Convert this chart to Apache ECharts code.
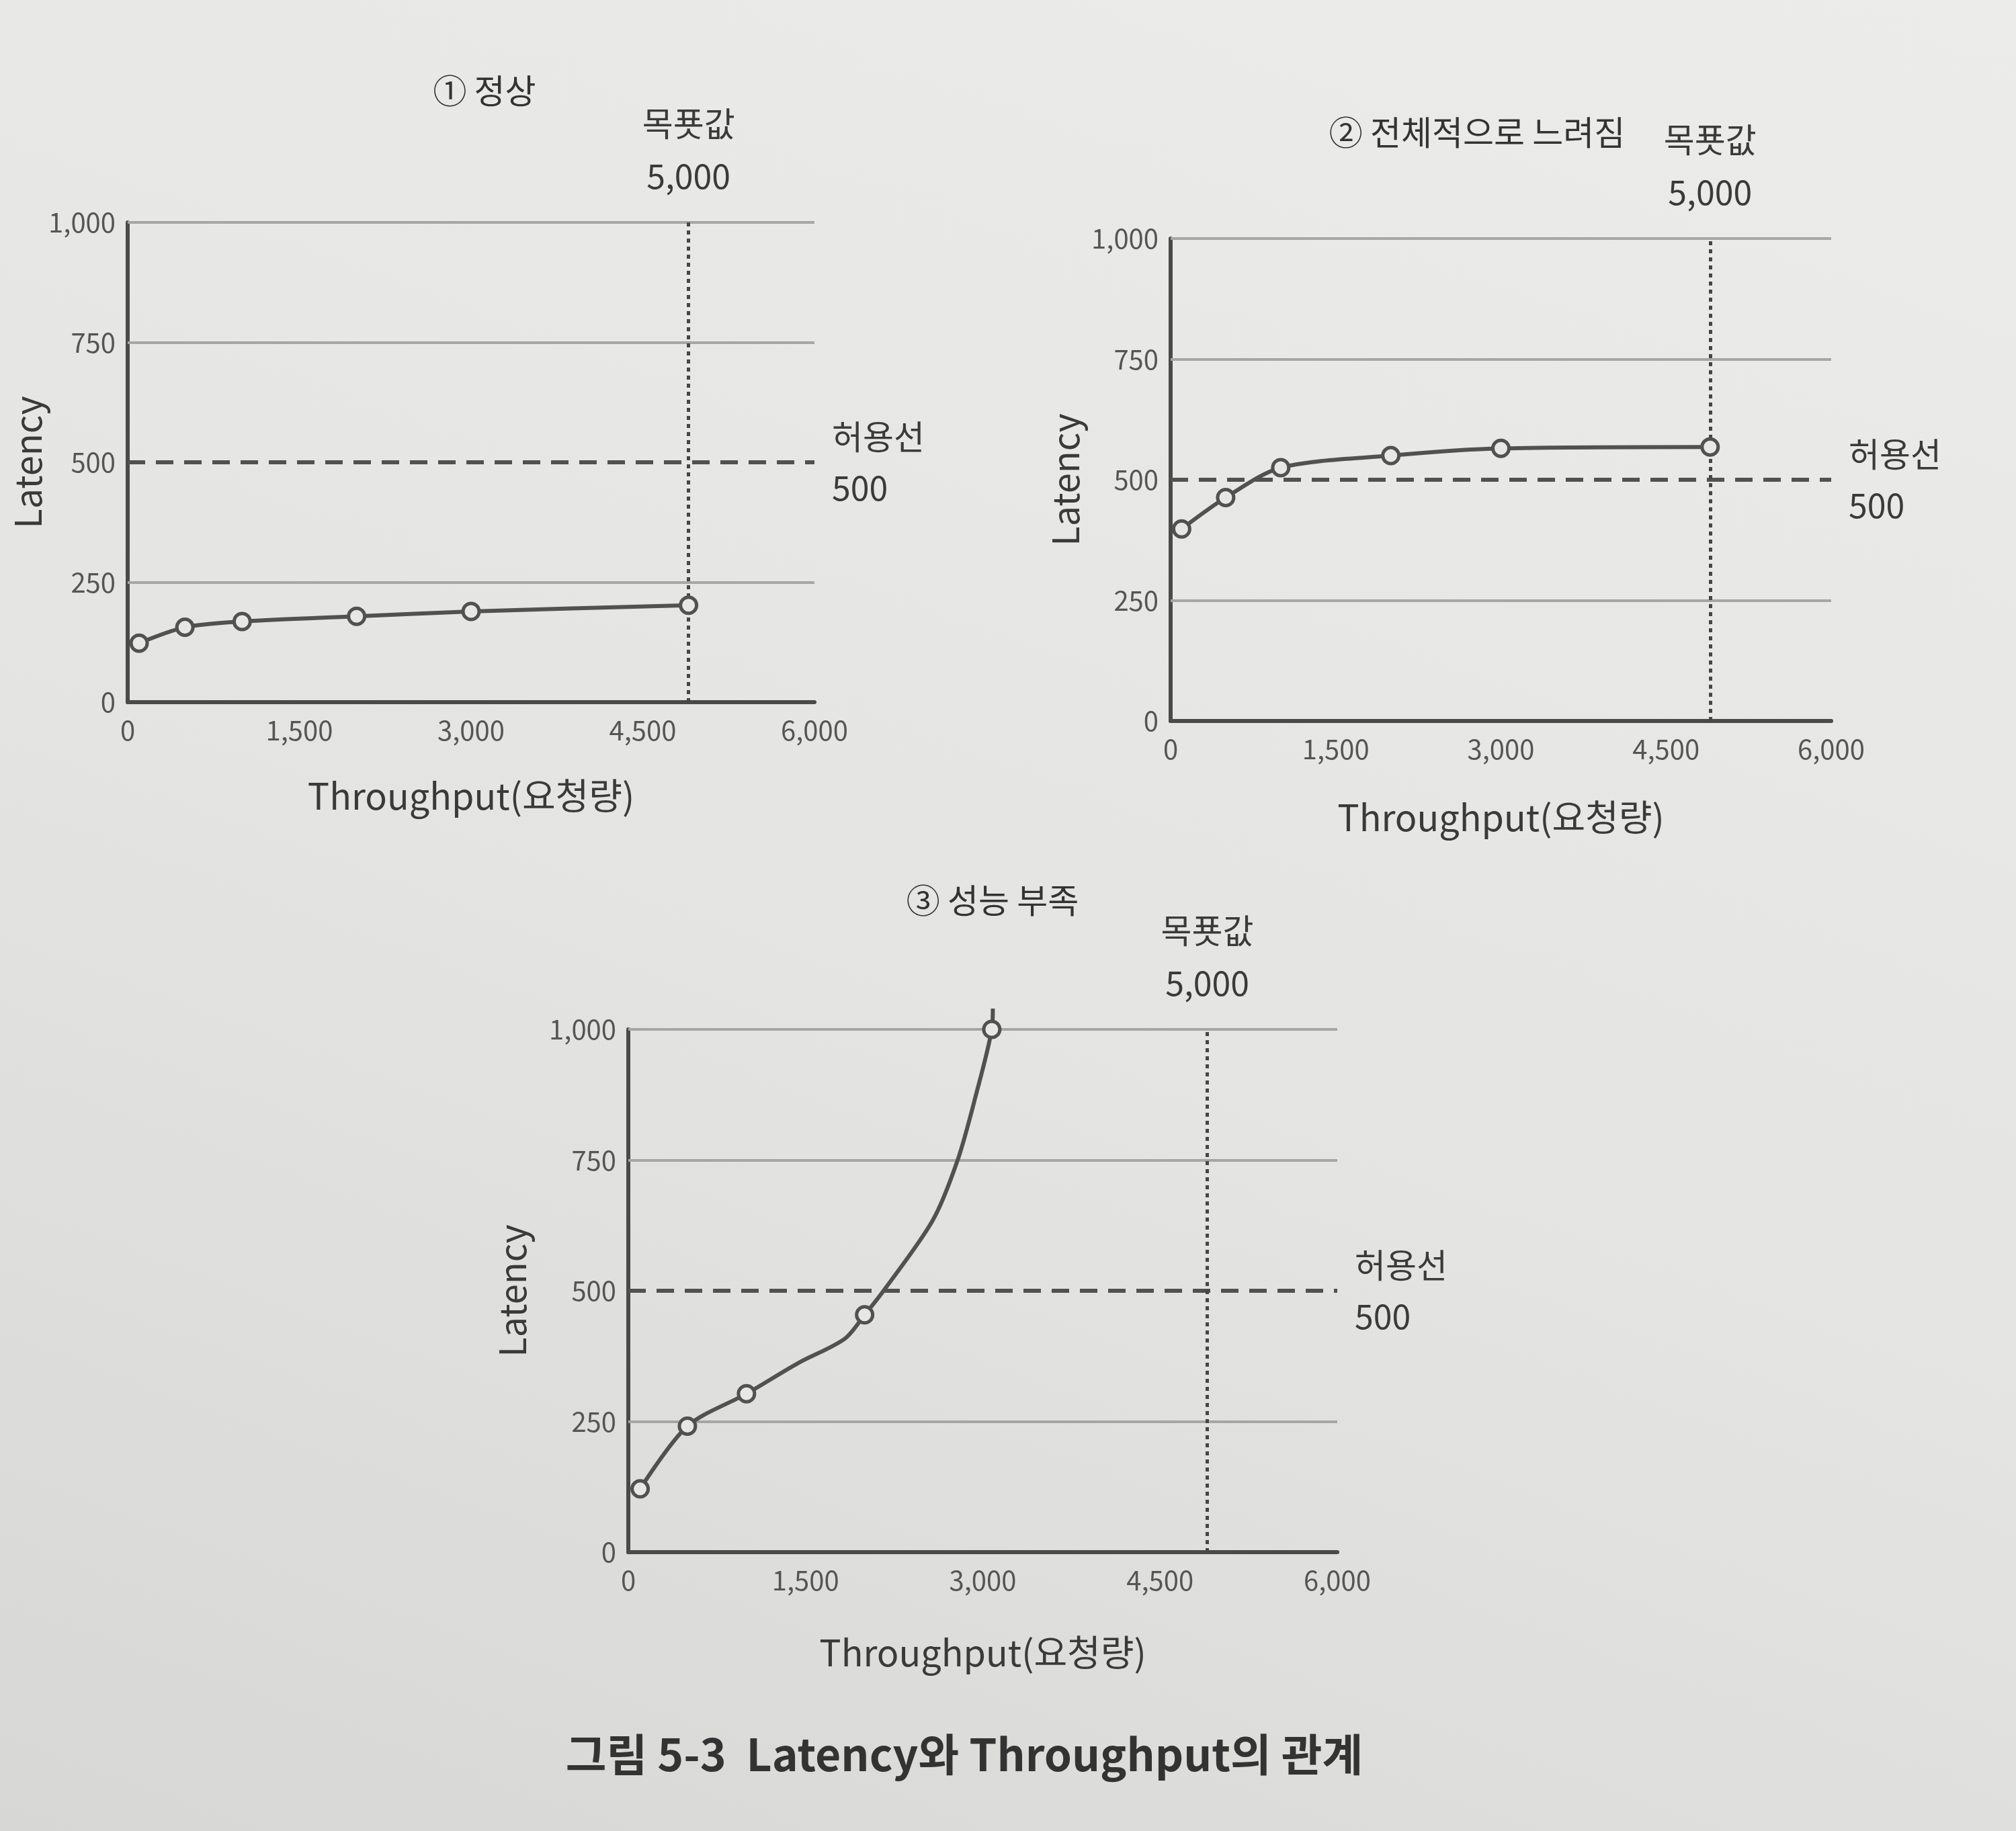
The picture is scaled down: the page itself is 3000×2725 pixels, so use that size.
<!DOCTYPE html>
<html>
<head>
<meta charset="utf-8">
<script src="https://cdn.jsdelivr.net/npm/echarts@6/dist/echarts.min.js"></script>
<style>
  html, body { margin: 0; padding: 0; }
  body {
    width: 3000px; height: 2725px;
    background: linear-gradient(200deg, #ececea 0%, #e4e4e2 55%, #d7d7d5 100%);
  }
  #chart { width: 3000px; height: 2725px; }
</style>
</head>
<body>
<div id="chart"></div>
<script>
// axis ticks
const latencyTicks = [0, 250, 500, 750, 1000]
const throughputTicks = [0, 1500, 3000, 4500, 6000]
const latencyGrid = [250, 750, 1000]

// reference lines
const limitLatency = 500
const limitLabel = '500'
const targetThroughput = 4900   // where the "5,000" line is drawn in the figure
const targetLabel = '5,000'

// [throughput, latency]
const normalPoints = [[100, 123], [500, 156], [1000, 168], [2000, 179], [3000, 189], [4900, 202]]
const slowPoints = [[100, 398], [500, 463], [1000, 525], [2000, 550], [3000, 565], [4900, 568]]
const weakPoints = [[100, 121], [500, 241], [1000, 303], [2000, 454], [3076, 1000]]
// extra points (no marker)
const weakCurve = [[1440, 362], [1830, 408], [2160, 500], [2577, 635], [2787, 750], [2939, 872], [3085, 1040]]

const titles = ['① 정상', '② 전체적으로 느려짐', '③ 성능 부족']
const caption = '그림 5-3  Latency와 Throughput의 관계'

const FONT = '"Noto Sans CJK KR", "Noto Sans", sans-serif'
const INK = '#3a3a3a'
const LINE = '#515151'
const PAPER = '#e7e7e5'

const panels = [
  { left: 190, top: 331, width: 1022, height: 714, xGap: 112, yGap: 112, tx: 721, ty: 135 },
  { left: 1742, top: 355, width: 983, height: 718, xGap: 116, yGap: 130, tx: 2198, ty: 197 },
  { left: 935, top: 1532, width: 1055, height: 778, xGap: 122, yGap: 146, tx: 1477, ty: 1340 },
]

const fmt = (v) => Number(v).toLocaleString('en-US')

const guideLines = () => ({
  silent: true,
  symbol: 'none',
  z: 1,
  animation: false,
  data: [
    ...latencyGrid.map(v => ({
      yAxis: v,
      lineStyle: { color: '#a6a6a6', width: 4, type: 'solid' },
      label: { show: false },
    })),
    {
      yAxis: limitLatency,
      lineStyle: { color: LINE, width: 6, type: [26, 16] },
      label: {
        show: true, position: 'end', distance: 26,
        formatter: '허용선\n' + limitLabel,
        fontSize: 50, lineHeight: 76, color: INK, fontFamily: FONT, align: 'left',
      },
    },
    {
      xAxis: targetThroughput,
      lineStyle: { color: '#464646', width: 5, type: [6, 6] },
      label: {
        show: true, position: 'end', distance: 30,
        formatter: '목푯값\n' + targetLabel,
        fontSize: 50, lineHeight: 78, color: INK, fontFamily: FONT,
      },
    },
  ],
})

const lineSeries = (i, data, smooth) => ({
  type: 'line',
  xAxisIndex: i,
  yAxisIndex: i,
  data,
  smooth,
  clip: false,
  z: 3,
  showAllSymbol: true,
  symbol: 'circle',
  symbolSize: 24,
  itemStyle: { color: PAPER, borderColor: LINE, borderWidth: 5 },
  lineStyle: { color: LINE, width: 6 },
  markLine: guideLines(),
  animation: false,
})

const weakData = [
  ...weakPoints.map(p => ({ value: p })),
  ...weakCurve.map(p => ({ value: p, symbol: 'none' })),
].sort((a, b) => a.value[0] - b.value[0])

const chart = echarts.init(document.getElementById('chart'))

chart.setOption({
  backgroundColor: 'transparent',
  grid: panels.map(p => ({ left: p.left, top: p.top, width: p.width, height: p.height })),
  xAxis: panels.map((p, i) => ({
    gridIndex: i,
    type: 'value',
    min: throughputTicks[0],
    max: throughputTicks[throughputTicks.length - 1],
    interval: throughputTicks[1] - throughputTicks[0],
    name: 'Throughput(요청량)',
    nameLocation: 'middle',
    nameGap: p.xGap,
    nameTextStyle: { fontSize: 54, color: INK, fontFamily: FONT },
    axisLine: { show: true, lineStyle: { color: '#4a4a4a', width: 6 } },
    axisTick: { show: false },
    splitLine: { show: false },
    axisLabel: { fontSize: 40, color: '#555', margin: 22, fontFamily: FONT, formatter: fmt },
  })),
  yAxis: panels.map((p, i) => ({
    gridIndex: i,
    type: 'value',
    min: latencyTicks[0],
    max: latencyTicks[latencyTicks.length - 1],
    interval: latencyTicks[1] - latencyTicks[0],
    name: 'Latency',
    nameLocation: 'middle',
    nameGap: p.yGap,
    nameTextStyle: { fontSize: 54, color: INK, fontFamily: FONT },
    axisLine: { show: true, lineStyle: { color: '#4a4a4a', width: 6 } },
    axisTick: { show: false },
    splitLine: { show: false },
    axisLabel: { fontSize: 40, color: '#555', margin: 18, fontFamily: FONT, formatter: fmt },
  })),
  series: [
    lineSeries(0, normalPoints, 0.3),
    lineSeries(1, slowPoints, 0.3),
    lineSeries(2, weakData, 0.3),
  ],
  graphic: [
    ...panels.map((p, i) => ({
      type: 'text',
      x: p.tx,
      y: p.ty,
      style: {
        text: titles[i], fill: '#333', fontSize: 50, fontFamily: FONT,
        textAlign: 'center', textVerticalAlign: 'middle',
      },
    })),
    {
      type: 'text',
      x: 1435,
      y: 2611,
      style: {
        text: caption, fill: '#333', fontSize: 66, fontWeight: 'bold', fontFamily: FONT,
        textAlign: 'center', textVerticalAlign: 'middle',
      },
    },
  ],
})
</script>
</body>
</html>
